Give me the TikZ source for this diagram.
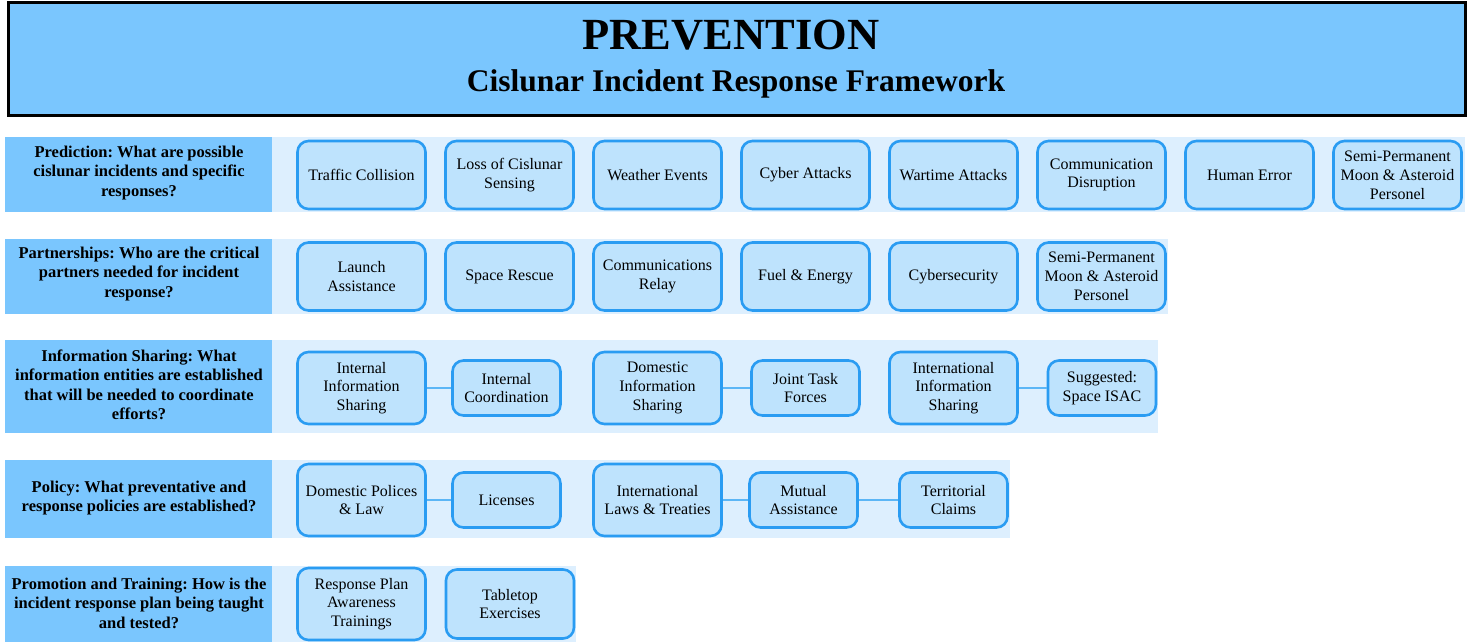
\documentclass[tikz,border=0pt]{standalone}
\usepackage{fontspec}
\setmainfont{Liberation Serif}
\frenchspacing
\definecolor{headblue}{HTML}{7AC6FE}
\definecolor{bandblue}{HTML}{DDEFFE}
\definecolor{boxfill}{HTML}{BEE3FD}
\definecolor{boxline}{HTML}{2A9CF2}
\definecolor{linkblue}{HTML}{5CB6F6}
\begin{document}
\begin{tikzpicture}[
                x=1pt, y=-1pt,
                item/.style={draw=boxline, fill=boxfill, line width=2.6pt, rounded corners=11pt,
                    minimum width=128pt, minimum height=68pt, align=center, inner sep=2pt,
                    font=\fontsize{16}{18.8}\selectfont},
                big/.style={item, minimum height=72pt},
                small/.style={item, minimum width=108pt, minimum height=55pt},
                question/.style={align=center, font=\bfseries\fontsize{16.5}{19.5}\selectfont},
                band/.style={fill=bandblue},
                cell/.style={fill=headblue},
                link/.style={draw=linkblue, line width=2pt}
            ]
            \useasboundingbox (0,0) rectangle (1472,642);
            % header
            \draw[fill=headblue, line width=3pt] (8,3) rectangle (1465,115);
            \node[anchor=base, font=\bfseries\fontsize{44.5}{50}\selectfont] (title) at (731,50) {PREVENTION};
            \node[anchor=base, font=\bfseries\fontsize{31.5}{36}\selectfont] (subtitle) at (736,92) {Cislunar Incident Response Framework};
            % bands and question cells
            \fill[band] (272,137) rectangle (1465,212);
            \fill[band] (272,239) rectangle (1168,314);
            \fill[band] (272,340) rectangle (1158,433);
            \fill[band] (272,460) rectangle (1010,538);
            \fill[band] (272,566) rectangle (576,642);
            \fill[cell] (5,137) rectangle (272,212);
            \fill[cell] (5,239) rectangle (272,314);
            \fill[cell] (5,340) rectangle (272,433);
            \fill[cell] (5,460) rectangle (272,538);
            \fill[cell] (5,566) rectangle (272,642);
            \node[question] (q1) at (139,173) {Prediction: What are possible\\cislunar incidents and specific\\responses?};
            \node[question] (q2) at (139,274) {Partnerships: Who are the critical\\partners needed for incident\\response?};
            \node[question] (q3) at (139,385) {Information Sharing: What\\information entities are established\\that will be needed to coordinate\\efforts?};
            \node[question] (q4) at (139,498) {Policy: What preventative and\\response policies are established?};
            \node[question] (q5) at (139,603) {Promotion and Training: How is the\\incident response plan being taught\\and tested?};
            % prediction
            \foreach \txt [count=\i from 0] in {Traffic Collision, {Loss of Cislunar\\Sensing}, Weather Events,
                Cyber Attacks, Wartime Attacks, {Communication\\Disruption}, Human Error,
                {Semi-Permanent\\Moon \& Asteroid\\Personel}}
                \node[item] (pred\i) at (361.5+148*\i,175) {\txt};
            % partnerships
            \foreach \txt [count=\i from 0] in {{Launch\\Assistance}, Space Rescue, {Communications\\Relay},
                Fuel \& Energy, Cybersecurity, {Semi-Permanent\\Moon \& Asteroid\\Personel}}
                \node[item] (part\i) at (361.5+148*\i,276.5) {\txt};
            % information sharing
            \node[big] (intinfo) at (361.5,388) {Internal\\Information\\Sharing};
            \node[small] (intcoord) at (506.5,388) {Internal\\Coordination};
            \node[big] (dominfo) at (657.5,388) {Domestic\\Information\\Sharing};
            \node[small] (joint) at (805.5,388) {Joint Task\\Forces};
            \node[big] (intlinfo) at (953.5,388) {International\\Information\\Sharing};
            \node[small] (isac) at (1102,388) {Suggested:\\Space ISAC};
            \draw[link] (intinfo) -- (intcoord);
            \draw[link] (dominfo) -- (joint);
            \draw[link] (intlinfo) -- (isac);
            % policy
            \node[big] (domlaw) at (361.5,500) {Domestic Polices\\\& Law};
            \node[small] (licenses) at (506.5,500) {Licenses};
            \node[big] (intllaw) at (657.5,500) {International\\Laws \& Treaties};
            \node[small] (mutual) at (803.5,500) {Mutual\\Assistance};
            \node[small] (claims) at (953.5,500) {Territorial\\Claims};
            \draw[link] (domlaw) -- (licenses);
            \draw[link] (intllaw) -- (mutual) -- (claims);
            % promotion and training
            \node[big] (awareness) at (361.5,604) {Response Plan\\Awareness\\Trainings};
            \node[item, minimum height=69pt] (tabletop) at (510,604) {Tabletop\\Exercises};
        \end{tikzpicture}
\end{document}
